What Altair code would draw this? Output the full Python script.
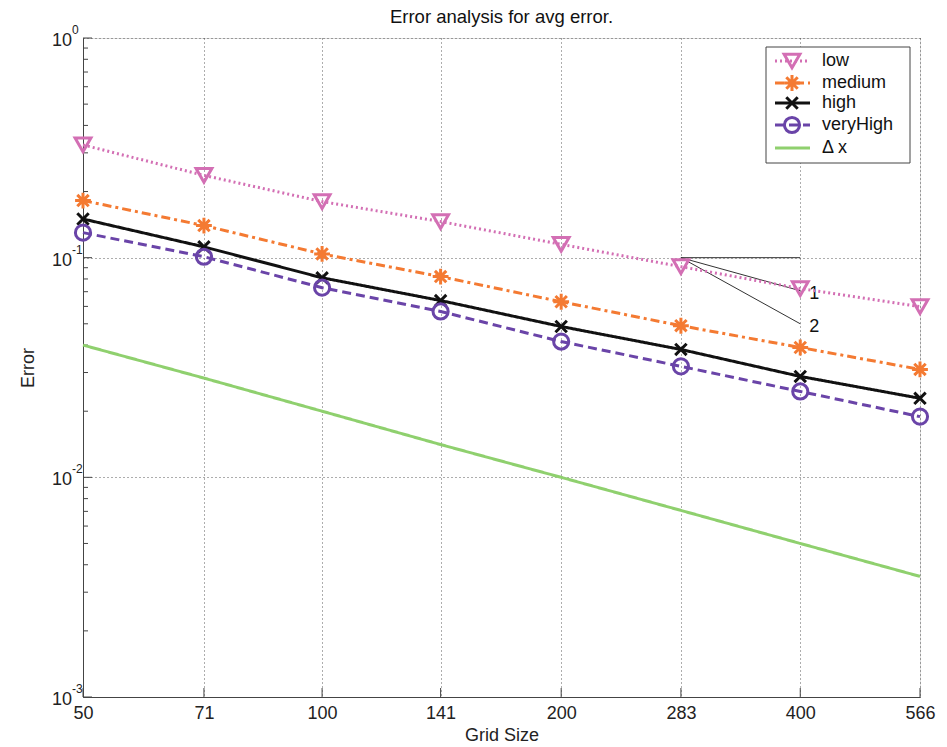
import altair as alt
import pandas as pd

# ---------------- data ----------------
grid_size = [50, 71, 100, 141, 200, 283, 400, 566]
err_low = [0.326, 0.237, 0.180, 0.146, 0.115, 0.091, 0.0723, 0.0599]
err_medium = [0.182, 0.140, 0.104, 0.082, 0.063, 0.049, 0.039, 0.031]
err_high = [0.150, 0.112, 0.081, 0.0638, 0.0486, 0.0382, 0.0288, 0.0229]
err_veryhigh = [0.130, 0.101, 0.0730, 0.0569, 0.0415, 0.032, 0.0246, 0.0189]
err_dx = [0.040, 0.0283, 0.020, 0.0141, 0.010, 0.00707, 0.0050, 0.00354]

series_names = ["low", "medium", "high", "veryHigh", "\u0394 x"]
series_values = [err_low, err_medium, err_high, err_veryhigh, err_dx]

# slope reference triangle
slope_x = [283, 400]
slope_ref = 0.1
slope_end = [0.0707, 0.05]
slope_labels = ["1", "2"]

y_decades = [0.001, 0.01, 0.1, 1.0]
y_exponents = ["-3", "-2", "-1", "0"]
y_minor = [m * d for d in [0.001, 0.01, 0.1] for m in range(2, 10)]

title_text = "Error analysis for avg error."

# ---------------- styling ----------------
W, H = 837, 659
FONT = "Liberation Sans"
FS = 18
colors = ["#d36fb4", "#f47a32", "#111111", "#6a44a8", "#8fd06e"]
dashes = [[2, 3], [9, 4, 3, 4], [1, 0], [9, 5], [1, 0]]
shapes = ["triangle-down",
          "M-1,0L1,0M0,-1L0,1M-0.72,-0.72L0.72,0.72M-0.72,0.72L0.72,-0.72",
          "M-1,-1L1,1M-1,1L1,-1",
          "circle",
          None]
sizes = [250, 250, 130, 230, 0]

xscale = alt.Scale(type="log", domain=[50, 566], nice=False)
yscale = alt.Scale(type="log", domain=[0.001, 1], nice=False)

xaxis = alt.Axis(values=grid_size, format="d", title="Grid Size", grid=True,
                 gridDash=[1, 3], gridColor="#333", gridOpacity=0.8,
                 ticks=False, domainColor="#444", labelFontSize=FS,
                 labelFont=FONT, labelColor="#222", labelPadding=7,
                 labelFlush=False,
                 titleFont=FONT, titleFontSize=18, titleFontWeight="normal",
                 titleColor="#222", titlePadding=4)
yaxis = alt.Axis(values=y_decades, labels=False, ticks=False, title="Error",
                 grid=True, gridDash=[1, 3], gridColor="#333", gridOpacity=0.8,
                 domainColor="#444", titleFont=FONT, titleFontSize=18,
                 titleFontWeight="normal", titleColor="#222", titlePadding=46)


def X(field="x"):
    return alt.X(f"{field}:Q", scale=xscale, axis=xaxis)


def Y(field="y"):
    return alt.Y(f"{field}:Q", scale=yscale, axis=yaxis)


layers = []

# inward ticks
dec_df = pd.DataFrame({"y": y_decades, "exp": y_exponents})
xt = alt.Chart(pd.DataFrame({"x": grid_size})).mark_rule(color="#444", strokeWidth=1).encode(
    x=X(), y=alt.value(H), y2=alt.value(H - 9))
ymaj = alt.Chart(dec_df).mark_rule(color="#444", strokeWidth=1).encode(
    y=Y(), x=alt.value(0), x2=alt.value(9))
ymin = alt.Chart(pd.DataFrame({"y": y_minor})).mark_rule(color="#444", strokeWidth=1).encode(
    y=Y(), x=alt.value(0), x2=alt.value(5))
layers += [xt, ymaj, ymin]

# y labels 10^n
ylab = alt.Chart(dec_df).mark_text(align="right", baseline="middle", font=FONT,
                                   fontSize=FS, color="#222", dx=-11, dy=3).encode(
    y=Y(), x=alt.value(0), text=alt.value("10"))
yexp = alt.Chart(dec_df).mark_text(align="left", baseline="middle", font=FONT,
                                   fontSize=12, color="#222", dx=-11, dy=-8).encode(
    y=Y(), x=alt.value(0), text="exp:N")
layers += [ylab, yexp]

# slope triangle
sl_df = pd.DataFrame({"x": [slope_x[0]] * 3, "x2": [slope_x[1]] * 3,
                      "y": [slope_ref] * 3, "y2": [slope_ref] + slope_end})
slope_rules = alt.Chart(sl_df).mark_rule(color="#333", strokeWidth=1).encode(
    x=X(), x2="x2:Q", y=Y(), y2="y2:Q")
lab_df = pd.DataFrame({"x": [slope_x[1]] * 2, "y": slope_end, "t": slope_labels})
slope_text = alt.Chart(lab_df).mark_text(
    align="left", baseline="middle", font=FONT, fontSize=FS, color="#111", dx=9, dy=3).encode(
    x=X(), y=Y(), text="t:N")
layers += [slope_rules, slope_text]

# series
for i, (name, vals) in enumerate(zip(series_names, series_values)):
    df = pd.DataFrame({"x": grid_size, "y": vals})
    line = alt.Chart(df).mark_line(color=colors[i], strokeWidth=3,
                                   strokeDash=dashes[i]).encode(x=X(), y=Y())
    layers.append(line)
    if shapes[i] is not None:
        pts = alt.Chart(df).mark_point(shape=shapes[i], size=sizes[i], filled=False,
                                       color=colors[i], strokeWidth=3, opacity=1).encode(
            x=X(), y=Y())
        layers.append(pts)

# legend (decoration, placed in pixel space)
leg_rows = [23, 45, 65, 87, 110]
box = alt.Chart(pd.DataFrame({"a": [0]})).mark_rect(fill="white", stroke="#444",
                                                   strokeWidth=1).encode(
    x=alt.value(683), x2=alt.value(827), y=alt.value(9), y2=alt.value(125))
layers.append(box)
for i, name in enumerate(series_names):
    r = leg_rows[i]
    one = pd.DataFrame({"t": [name]})
    layers.append(alt.Chart(one).mark_rule(color=colors[i], strokeWidth=3,
                                           strokeDash=dashes[i]).encode(
        x=alt.value(692), x2=alt.value(727), y=alt.value(r)))
    if shapes[i] is not None:
        layers.append(alt.Chart(one).mark_point(shape=shapes[i], size=sizes[i],
                                                filled=False, color=colors[i],
                                                strokeWidth=3, opacity=1).encode(
            x=alt.value(709), y=alt.value(r)))
    layers.append(alt.Chart(one).mark_text(align="left", baseline="middle", font=FONT,
                                           fontSize=FS, color="#111").encode(
        x=alt.value(739), y=alt.value(r), text="t:N"))

# title as text
layers.append(alt.Chart(pd.DataFrame({"t": [title_text]})).mark_text(
    align="center", baseline="middle", font=FONT, fontSize=18.5, color="#111").encode(
    x=alt.value(W / 2), y=alt.value(-21), text="t:N"))

chart = alt.layer(*layers).properties(
    width=W, height=H,
    autosize=alt.AutoSizeParams(type="none"),
    padding={"left": 83, "top": 38, "right": 27, "bottom": 50},
).configure_view(stroke=None).configure(background="white")

chart.save("out.html", embed_options={"renderer": "svg", "actions": False})
